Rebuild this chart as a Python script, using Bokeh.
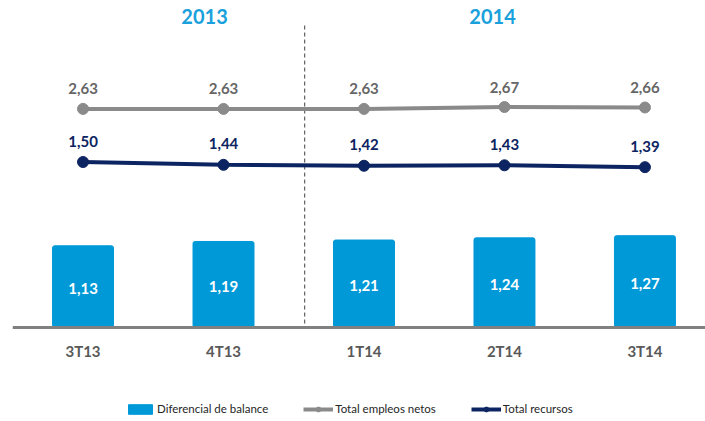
from bokeh.plotting import figure
from bokeh.models import Range1d, Legend, LegendItem, Span
from bokeh.core.properties import value
from bokeh.embed import file_html
from bokeh.resources import INLINE

# ---- data ----
categories = ["3T13", "4T13", "1T14", "2T14", "3T14"]
diferencial = [1.13, 1.19, 1.21, 1.24, 1.27]
empleos = [2.63, 2.63, 2.63, 2.67, 2.66]
recursos = [1.50, 1.44, 1.42, 1.43, 1.39]
years = ["2013", "2014"]
year_pos = [0.865, 2.915]

# ---- styling / layout constants ----
BAR_C = "#0099d8"
GREY_C = "#8a8a8a"
NAVY_C = "#0c2461"
YEAR_C = "#1aa1dc"
LABEL_C = "#595959"
FONT = value("Lato")
DIV_X = 1.578
DIV_Y0, DIV_Y1 = 0.055, 4.205
CAT_Y = -0.318
YEAR_Y = 4.306


def fmt(v):
    return f"{v:.2f}".replace(".", ",")


x = list(range(len(categories)))

p = figure(width=705, height=421, output_backend="svg", toolbar_location=None,
           x_range=Range1d(-0.502, 4.431), y_range=Range1d(-1.300, 4.523),
           x_axis_type=None, y_axis_type=None,
           min_border_left=12, min_border_right=0, min_border_top=0, min_border_bottom=0)
p.outline_line_color = None
p.xgrid.visible = False
p.ygrid.visible = False
p.extra_y_ranges = {"lines": Range1d(-4.021, 4.936)}

bars = p.vbar(x=x, top=diferencial, bottom=0, width=0.434, fill_color=BAR_C,
              line_color=BAR_C, border_radius=2)
p.text(x=x, y=[v / 2 for v in diferencial], text=[fmt(v) for v in diferencial],
       text_align="center", text_baseline="middle", text_color="white",
       text_font=FONT, text_font_style="bold", text_font_size="15px", y_offset=2)

p.add_layout(Span(location=0, dimension="width", line_color="#808080", line_width=3))

p.segment(x0=[DIV_X], y0=[DIV_Y0], x1=[DIV_X], y1=[DIV_Y1], line_color="#404040",
          line_width=1, line_dash="4 3")

gline = p.line(x, empleos, y_range_name="lines", line_color=GREY_C, line_width=4)
gdots = p.scatter(x, empleos, y_range_name="lines", size=11, fill_color=GREY_C, line_color=GREY_C)
p.text(x=x, y=empleos, y_range_name="lines", text=[fmt(v) for v in empleos],
       text_align="center", text_baseline="middle", text_color="#666666",
       text_font=FONT, text_font_style="bold", text_font_size="15px", y_offset=-20)

nline = p.line(x, recursos, y_range_name="lines", line_color=NAVY_C, line_width=4)
ndots = p.scatter(x, recursos, y_range_name="lines", size=11, fill_color=NAVY_C, line_color=NAVY_C)
p.text(x=x, y=recursos, y_range_name="lines", text=[fmt(v) for v in recursos],
       text_align="center", text_baseline="middle", text_color=NAVY_C,
       text_font=FONT, text_font_style="bold", text_font_size="15px", y_offset=-21)

p.text(x=x, y=[CAT_Y] * len(categories), text=categories, text_align="center",
       text_baseline="middle", text_color=LABEL_C, text_font=FONT,
       text_font_style="bold", text_font_size="15px")

p.text(x=year_pos, y=[YEAR_Y] * len(years), text=years, text_align="center",
       text_baseline="middle", text_color=YEAR_C, text_font=FONT,
       text_font_style="bold", text_font_size="20px")

legend = Legend(items=[
    LegendItem(label="Diferencial de balance", renderers=[bars]),
    LegendItem(label="Total empleos netos", renderers=[gline, gdots]),
    LegendItem(label="Total recursos", renderers=[nline, ndots]),
], orientation="horizontal", location=(113, 6), spacing=35, glyph_width=30,
    glyph_height=12, label_height=12, label_standoff=2, padding=0, margin=0,
    border_line_color=None, background_fill_alpha=0,
    label_text_font="Lato", label_text_font_size="11.5px", label_text_color="#262626")
p.add_layout(legend)

open("out.html", "w").write(file_html(p, INLINE))
